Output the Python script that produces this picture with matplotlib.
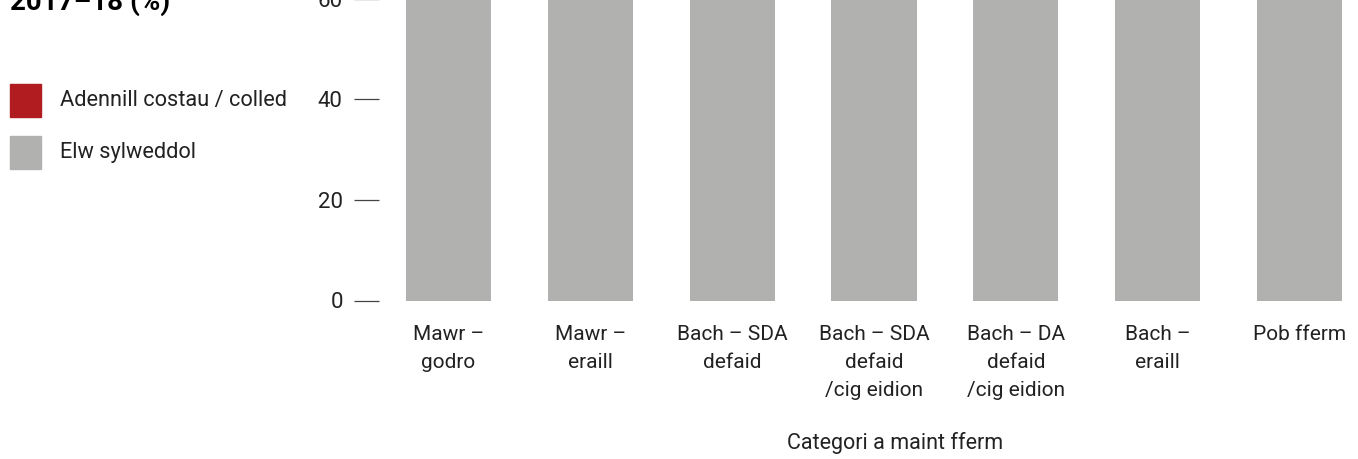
import matplotlib
matplotlib.use("Agg")
import matplotlib.pyplot as plt
from matplotlib.patches import Rectangle

categories = ["Mawr –\ngodro", "Mawr –\neraill", "Bach – SDA\ndefaid",
              "Bach – SDA\ndefaid\n/cig eidion", "Bach – DA\ndefaid\n/cig eidion",
              "Bach –\neraill", "Pob fferm"]
elw_sylweddol = [72, 68, 66, 64, 65, 63, 67]
adennill_colled = [28, 32, 34, 36, 35, 37, 33]
yticks = [0, 20, 40, 60]
series_names = ["Adennill costau / colled", "Elw sylweddol"]
title_text = "2017–18 (%)"
xlabel_text = "Categori a maint fferm"

RED = "#B01C20"
GREY = "#B1B1B0"
TXT = "#222222"

plt.rcParams['font.family'] = ['Roboto', 'DejaVu Sans']

W, H = 1358, 459
fig = plt.figure(figsize=(W / 100, H / 100), dpi=100)

ax = fig.add_axes([390 / W, 158.5 / H, 968 / W, 502.5 / H])
x = list(range(len(categories)))
ax.bar(x, elw_sylweddol, width=0.6, color=GREY, zorder=2)
ax.bar(x, adennill_colled, width=0.6, bottom=elw_sylweddol, color=RED, zorder=2)
ax.set_xlim(-0.4125, len(categories) - 1 + 0.4125)
ax.set_ylim(0, 100)

for s in ax.spines.values():
    s.set_visible(False)
ax.spines['left'].set_position(('outward', 8))

ax.set_yticks(yticks)
ax.set_yticklabels([str(v) for v in yticks], fontsize=16, color=TXT)
ax.tick_params(axis='y', direction='out', length=18, width=0.9, color='#444444', pad=8)

ax.set_xticks(x)
ax.set_xticklabels(categories, fontsize=15, color=TXT, linespacing=1.6)
ax.tick_params(axis='x', length=0, pad=17.5)

fig.text(895 / W, 1 - 443 / H, xlabel_text, fontsize=15.5, color=TXT, ha='center', va='center')

# legend
fig.patches.append(Rectangle((10 / W, 1 - 117 / H), 31 / W, 33 / H, transform=fig.transFigure,
                             color=RED, figure=fig))
fig.patches.append(Rectangle((10 / W, 1 - 169 / H), 31 / W, 33 / H, transform=fig.transFigure,
                             color=GREY, figure=fig))
fig.text(60 / W, 1 - 100.5 / H, series_names[0], fontsize=15.7, color=TXT, ha='left', va='center')
fig.text(60 / W, 1 - 153 / H, series_names[1], fontsize=15.7, color=TXT, ha='left', va='center')

fig.text(10 / W, 1 - 10 / H, title_text, fontsize=20, fontweight='bold', color='black',
         ha='left', va='baseline')

fig.savefig("out.png", dpi=100)
